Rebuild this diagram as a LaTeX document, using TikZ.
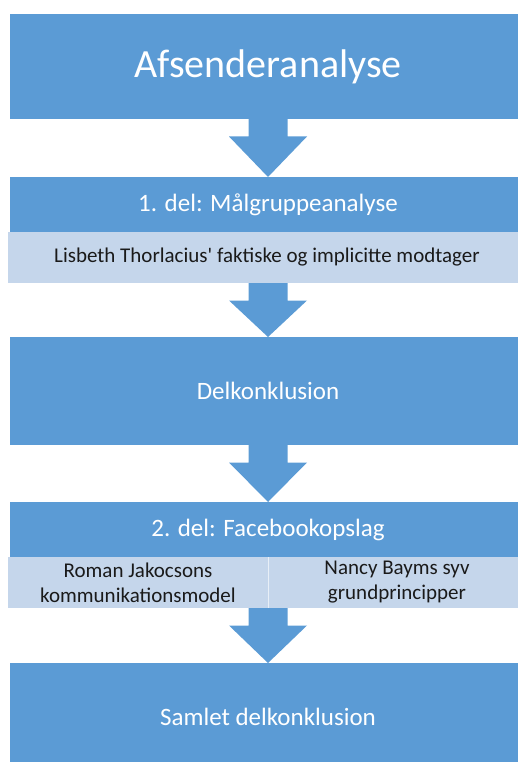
\documentclass[tikz,border=0pt]{standalone}
\usepackage{fontspec}
\setmainfont{Carlito}
\usetikzlibrary{calc}
\definecolor{dblue}{HTML}{5B9BD5}
\definecolor{lblue}{HTML}{C5D6EB}
\definecolor{dtext}{HTML}{1A1A1A}
\newcommand\flowarrow[2]{%
  \fill[dblue] ($(#1.south -| #2.north)+(-19.5,0)$) -- ($(#1.south -| #2.north)+(19.5,0)$)
    -- ($(#1.south -| #2.north)+(19.5,17.5)$) -- ($(#1.south -| #2.north)+(39,17.5)$)
    -- (#2.north) -- ($(#1.south -| #2.north)+(-39,17.5)$)
    -- ($(#1.south -| #2.north)+(-19.5,17.5)$) -- cycle;}
\begin{document}
\begin{tikzpicture}[x=1pt,y=-1pt,
  dbox/.style={fill=dblue, text=white, inner sep=0pt, outer sep=0pt, anchor=north west, minimum width=516pt},
  lbox/.style={fill=lblue, text=dtext, inner sep=0pt, outer sep=0pt, anchor=north west, align=center,
     font=\fontsize{21}{25}\selectfont},
  big/.style={font=\fontsize{40}{44}\selectfont},
  mid/.style={font=\fontsize{25}{29}\selectfont}]
\useasboundingbox (0,0) rectangle (518,762);
\node[dbox, big, minimum height=105pt] (t) at (10,14) {Afsenderanalyse};
\node[dbox, mid, minimum height=55pt] (p1) at (10,177) {1. del: Målgruppeanalyse};
\node[lbox, minimum width=518pt, minimum height=51pt] (l1) at (8,232) {Lisbeth Thorlacius\textquotesingle{} faktiske og implicitte modtager};
\node[dbox, mid, minimum height=108pt] (d1) at (10,337) {Delkonklusion};
\node[dbox, mid, minimum height=55pt] (p2) at (10,502) {2. del: Facebookopslag};
\node[lbox, minimum width=260pt, minimum height=51pt] (l2a) at (8,557) {Roman Jakocsons\\kommunikationsmodel};
\node[lbox, minimum width=258pt, minimum height=51pt] (l2b) at (268,557) {Nancy Bayms syv\\grundprincipper};
\draw[white!60!lblue, line width=0.8pt] (l2a.north east) -- (l2a.south east);
\node[dbox, mid, minimum height=108pt] (f) at (10,663) {Samlet delkonklusion};
\flowarrow{t}{p1}
\flowarrow{l1}{d1}
\flowarrow{d1}{p2}
\flowarrow{l2a}{f}
\end{tikzpicture}
\end{document}
